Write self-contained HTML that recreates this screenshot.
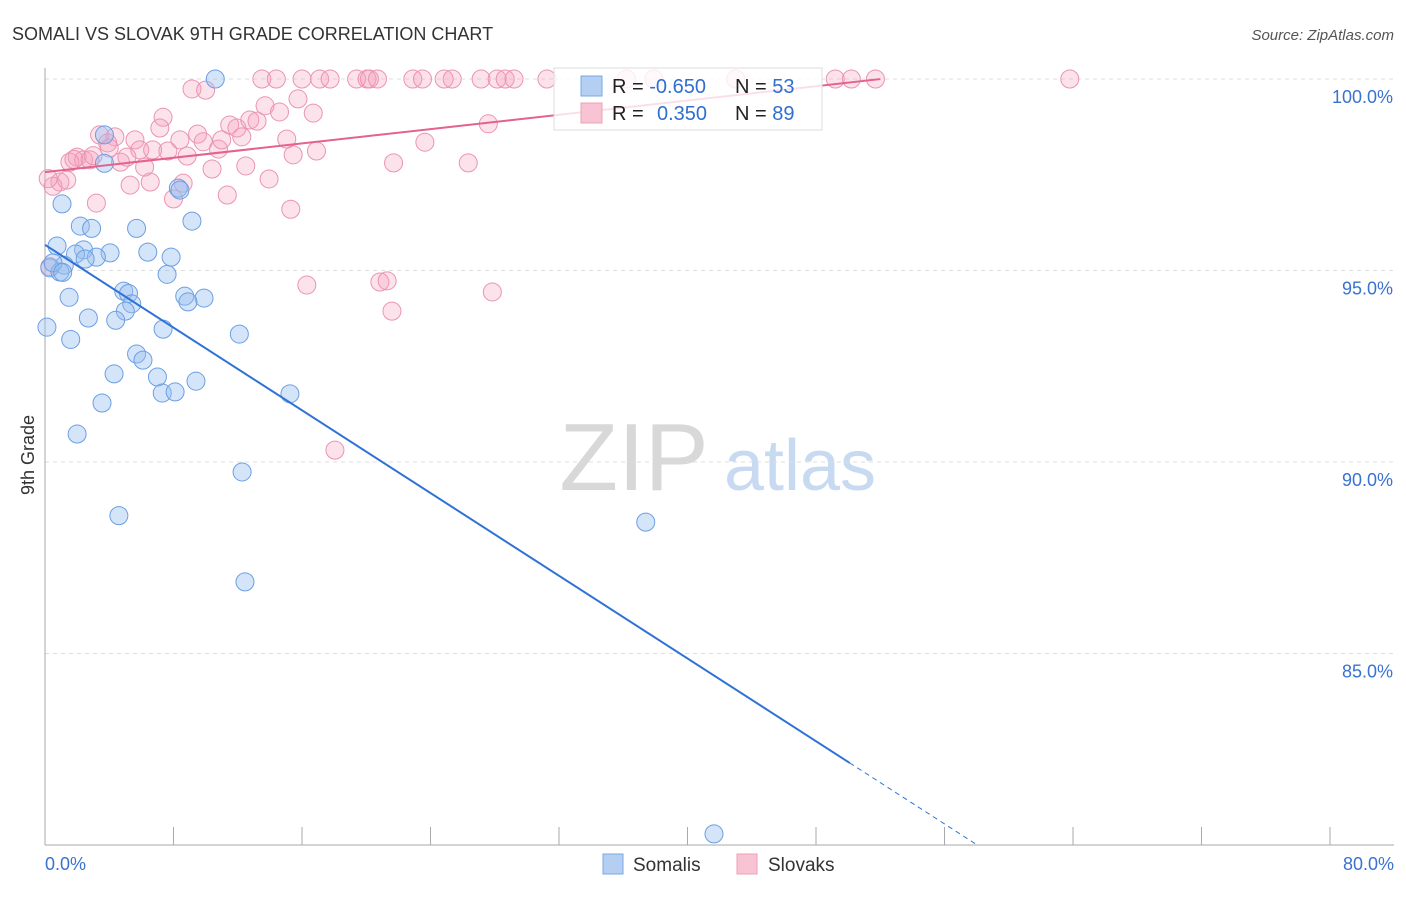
<!DOCTYPE html>
<html><head><meta charset="utf-8"><style>
body{margin:0;background:#fff;font-family:"Liberation Sans",sans-serif;}
svg text{font-family:"Liberation Sans",sans-serif;}
</style></head><body>
<svg width="1406" height="892" viewBox="0 0 1406 892">
<text x="12" y="40" font-size="18" fill="#333">SOMALI VS SLOVAK 9TH GRADE CORRELATION CHART</text>
<text x="1394" y="40" font-size="15" fill="#555" font-style="italic" text-anchor="end">Source: ZipAtlas.com</text>
<g>
<text x="634" y="490" font-size="96" fill="#d8d8d8" font-family="Liberation Serif,serif" text-anchor="middle">ZIP</text>
<text x="800" y="490" font-size="72" fill="#c8daf2" text-anchor="middle">atlas</text>
</g>
<g id="grid"></g>
<g id="axes"></g>
<g id="pts"></g>
<g id="lines"></g>
<g>
<rect x="554" y="68" width="268" height="62" fill="rgba(255,255,255,0.8)" stroke="#ddd"/>
<rect x="581" y="76" width="21" height="20" fill="#b4cff2" stroke="#7aa8e6"/>
<rect x="581" y="103" width="21" height="20" fill="#f8c4d4" stroke="#eca0b8"/>
<text x="612" y="93" font-size="20" fill="#222">R = <tspan fill="#2f6fd0">-0.650</tspan></text>
<text x="735" y="93" font-size="20" fill="#222">N = <tspan fill="#2f6fd0">53</tspan></text>
<text x="612" y="120" font-size="20" fill="#222">R = <tspan fill="#2f6fd0" x="657">0.350</tspan></text>
<text x="735" y="120" font-size="20" fill="#222">N = <tspan fill="#2f6fd0">89</tspan></text>
</g>
<g>
<rect x="603" y="854" width="20" height="20" fill="#b4cff2" stroke="#7aa8e6"/>
<text x="633" y="871" font-size="19" fill="#333">Somalis</text>
<rect x="737" y="854" width="20" height="20" fill="#f8c4d4" stroke="#eca0b8"/>
<text x="768" y="871" font-size="19" fill="#333">Slovaks</text>
</g>
<text transform="translate(34,455) rotate(-90)" font-size="18" fill="#333" text-anchor="middle">9th Grade</text>
</svg>
<script>
const yTicks=[100,95,90,85];
const yTickLabels=["100.0%","95.0%","90.0%","85.0%"];
const xTicks=[0,8,16,24,32,40,48,56,64,72,80];
const somaliX=[10.6,3.7,8.3,8.4,1.06,9.15,2.2,2.9,5.7,0.75,2.4,4.05,1.9,3.2,6.4,7.85,1.2,0.3,0.93,7.6,1.5,4.9,5.2,8.7,9.9,8.9,5.4,5.0,2.7,4.4,0.12,7.35,12.1,1.6,5.7,6.1,4.3,7.0,9.4,7.3,8.1,15.25,3.55,2.0,12.27,4.6,37.4,12.45,41.65,3.7,0.5,1.1,2.5];
const somaliY=[100.0,98.54,97.15,97.1,96.74,96.29,96.16,96.1,96.1,95.64,95.54,95.46,95.43,95.35,95.48,95.35,95.14,95.07,94.96,94.9,94.3,94.46,94.4,94.33,94.28,94.18,94.13,93.94,93.76,93.7,93.52,93.47,93.34,93.2,92.82,92.66,92.3,92.22,92.11,91.8,91.83,91.78,91.54,90.73,89.74,88.6,88.43,86.87,80.29,97.8,95.2,94.95,95.3];
const slovakX=[13.5,14.4,16.0,17.1,17.75,19.4,20.05,20.2,20.7,22.9,23.5,24.85,25.35,27.15,28.15,28.65,29.2,31.25,36.2,37.9,43.0,49.2,50.2,51.7,63.8,
9.15,10.0,7.35,7.15,3.4,4.35,3.9,5.6,5.9,6.7,7.65,8.4,9.5,9.85,8.85,10.8,11.0,11.5,11.95,12.25,12.75,13.2,13.7,14.6,15.75,16.7,15.05,15.45,16.9,21.7,13.95,12.5,10.4,11.35,15.3,8.0,8.6,6.55,5.3,6.2,4.7,5.1,3.2,2.0,2.4,2.8,1.55,0.93,0.5,1.35,0.3,16.3,20.85,21.3,21.6,26.35,23.65,27.6,27.85,18.05,0.2,1.8,4.0,3.0];
const slovakY=[100,100,100,100,100,100,100,100,100,100,100,100,100,100,100,100,100,100,100,100,100,100,100,100,100,
99.74,99.71,99.0,98.72,98.54,98.49,98.33,98.41,98.15,98.15,98.12,98.41,98.56,98.36,97.99,98.17,98.41,98.8,98.72,98.49,98.93,98.9,99.3,99.14,99.48,99.11,98.43,98.02,98.12,97.81,97.39,97.73,97.65,96.97,96.6,96.87,97.28,97.31,97.23,97.7,97.83,97.96,96.76,97.96,97.89,97.89,97.83,97.31,97.2,97.36,95.1,94.62,94.7,94.73,93.94,97.81,98.35,98.83,94.44,90.31,97.4,97.9,98.2,98.0];
const somaliFit=[95.67,-0.27];
const slovakFit=[97.57,0.0467];
const NS="http://www.w3.org/2000/svg";
const X0=45,X1=1330,Y0=79,Y1=845;
function sx(v){return X0+(v/80)*(X1-X0);}
function sy(v){return Y0+(100-v)/20*(Y1-Y0);}
function mk(tag,attrs,parent){const e=document.createElementNS(NS,tag);for(const k in attrs)e.setAttribute(k,attrs[k]);parent.appendChild(e);return e;}
const grid=document.getElementById('grid'),axes=document.getElementById('axes'),pts=document.getElementById('pts'),lines=document.getElementById('lines');
yTicks.forEach((t,i)=>{
 const l=mk('line',{x1:X0,x2:1394,y1:sy(t),y2:sy(t),stroke:'#ddd','stroke-dasharray':'4,4'},grid);
 
 
 const tx=mk('text',{x:1393,y:sy(t)+24,'font-size':18,fill:'#3a72d0','text-anchor':'end'},axes);
 tx.textContent=yTickLabels[i];
 
 
});
const ya=mk('line',{x1:X0,x2:X0,y1:68,y2:Y1,stroke:'#aaa'},axes);


const xa=mk('line',{x1:X0,x2:1394,y1:Y1,y2:Y1,stroke:'#aaa'},axes);


xTicks.forEach(t=>{
 const k=mk('line',{x1:sx(t),x2:sx(t),y1:827,y2:Y1,stroke:'#aaa'},axes);
 
 
});
const xl0=mk('text',{x:45,y:870,'font-size':18,fill:'#3a72d0'},axes);xl0.textContent='0.0%';


const xl1=mk('text',{x:1394,y:870,'font-size':18,fill:'#3a72d0','text-anchor':'end'},axes);xl1.textContent='80.0%';


slovakX.forEach((v,i)=>{
 const c=mk('circle',{cx:sx(v),cy:sy(slovakY[i]),r:9,fill:'rgba(245,160,190,0.3)',stroke:'#eb94b2','stroke-width':1},pts);
 
 
});
somaliX.forEach((v,i)=>{
 const c=mk('circle',{cx:sx(v),cy:sy(somaliY[i]),r:9,fill:'rgba(150,190,240,0.4)',stroke:'#6b9fe2','stroke-width':1},pts);
 
 
});
const bEnd=50.1, bDashEnd=(80-somaliFit[0])/somaliFit[1];
const bl=mk('line',{x1:sx(0),y1:sy(somaliFit[0]),x2:sx(bEnd),y2:sy(somaliFit[0]+somaliFit[1]*bEnd),stroke:'#2f72d6','stroke-width':2},lines);


const bd=mk('line',{x1:sx(bEnd),y1:sy(somaliFit[0]+somaliFit[1]*bEnd),x2:sx(bDashEnd),y2:sy(80),stroke:'#2f72d6','stroke-width':1,'stroke-dasharray':'5,4'},lines);


const pEnd=52;
const pl=mk('line',{x1:sx(0),y1:sy(slovakFit[0]),x2:sx(pEnd),y2:sy(slovakFit[0]+slovakFit[1]*pEnd),stroke:'#e4628c','stroke-width':2},lines);


</script>
</body></html>
